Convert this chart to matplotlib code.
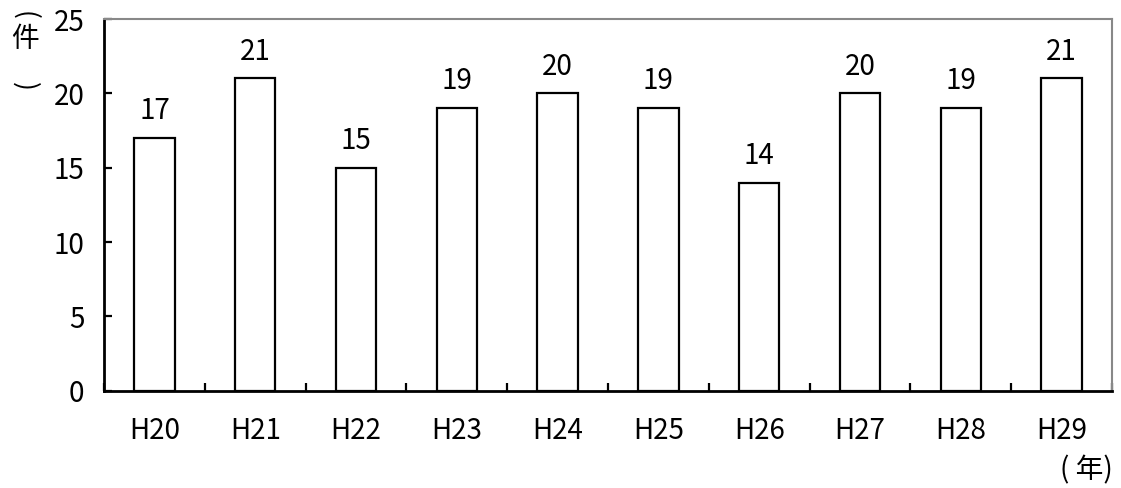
import matplotlib.pyplot as plt
import numpy as np

plt.rcParams['font.family'] = ['Noto Sans CJK JP', 'DejaVu Sans']

years = ['H20', 'H21', 'H22', 'H23', 'H24', 'H25', 'H26', 'H27', 'H28', 'H29']
counts = [17, 21, 15, 19, 20, 19, 14, 20, 19, 21]

fig = plt.figure(figsize=(11.21, 4.88), dpi=100)
ax = fig.add_axes([0.0928, 0.1994, 0.8992, 0.7616])

x = np.arange(len(years))
ax.bar(x, counts, width=0.4, color='white', edgecolor='black', linewidth=1.6)

# value labels above each bar
for xi, c in zip(x, counts):
    ax.text(xi, c + 1.8, str(c), ha='center', va='center', fontsize=20)

ax.set_xlim(-0.5, len(years) - 0.5)
ax.set_ylim(0, 25)
ax.set_yticks([0, 5, 10, 15, 20, 25])

# x ticks at category boundaries, labels at centers
ax.set_xticks(np.arange(-0.5, len(years), 1.0))
ax.set_xticklabels([])
ax.set_xticks(x, minor=True)
ax.set_xticklabels(years, minor=True, fontsize=20)
ax.tick_params(axis='x', which='major', direction='in', length=6, width=1.6)
ax.tick_params(axis='x', which='minor', length=0, pad=18)
ax.tick_params(axis='y', direction='in', length=6, width=1.6, labelsize=20, pad=14)

for s in ['left', 'bottom']:
    ax.spines[s].set_linewidth(2)
    ax.spines[s].set_color('black')
for s in ['top', 'right']:
    ax.spines[s].set_linewidth(1.5)
    ax.spines[s].set_color('#888888')

# vertical unit label: （件）, parens turned to lie flat
fig.text(0.0223, 1 - 15 / 488, '(', rotation=-90, ha='center', va='center', fontsize=19)
fig.text(0.0223, 1 - 39 / 488, '件', ha='center', va='center', fontsize=20)
fig.text(0.0223, 1 - 86 / 488, ')', rotation=-90, ha='center', va='center', fontsize=19)

fig.text(0.993, 1 - 470 / 488, '( 年)', ha='right', va='center', fontsize=20)

fig.savefig('out.png', dpi=100)
